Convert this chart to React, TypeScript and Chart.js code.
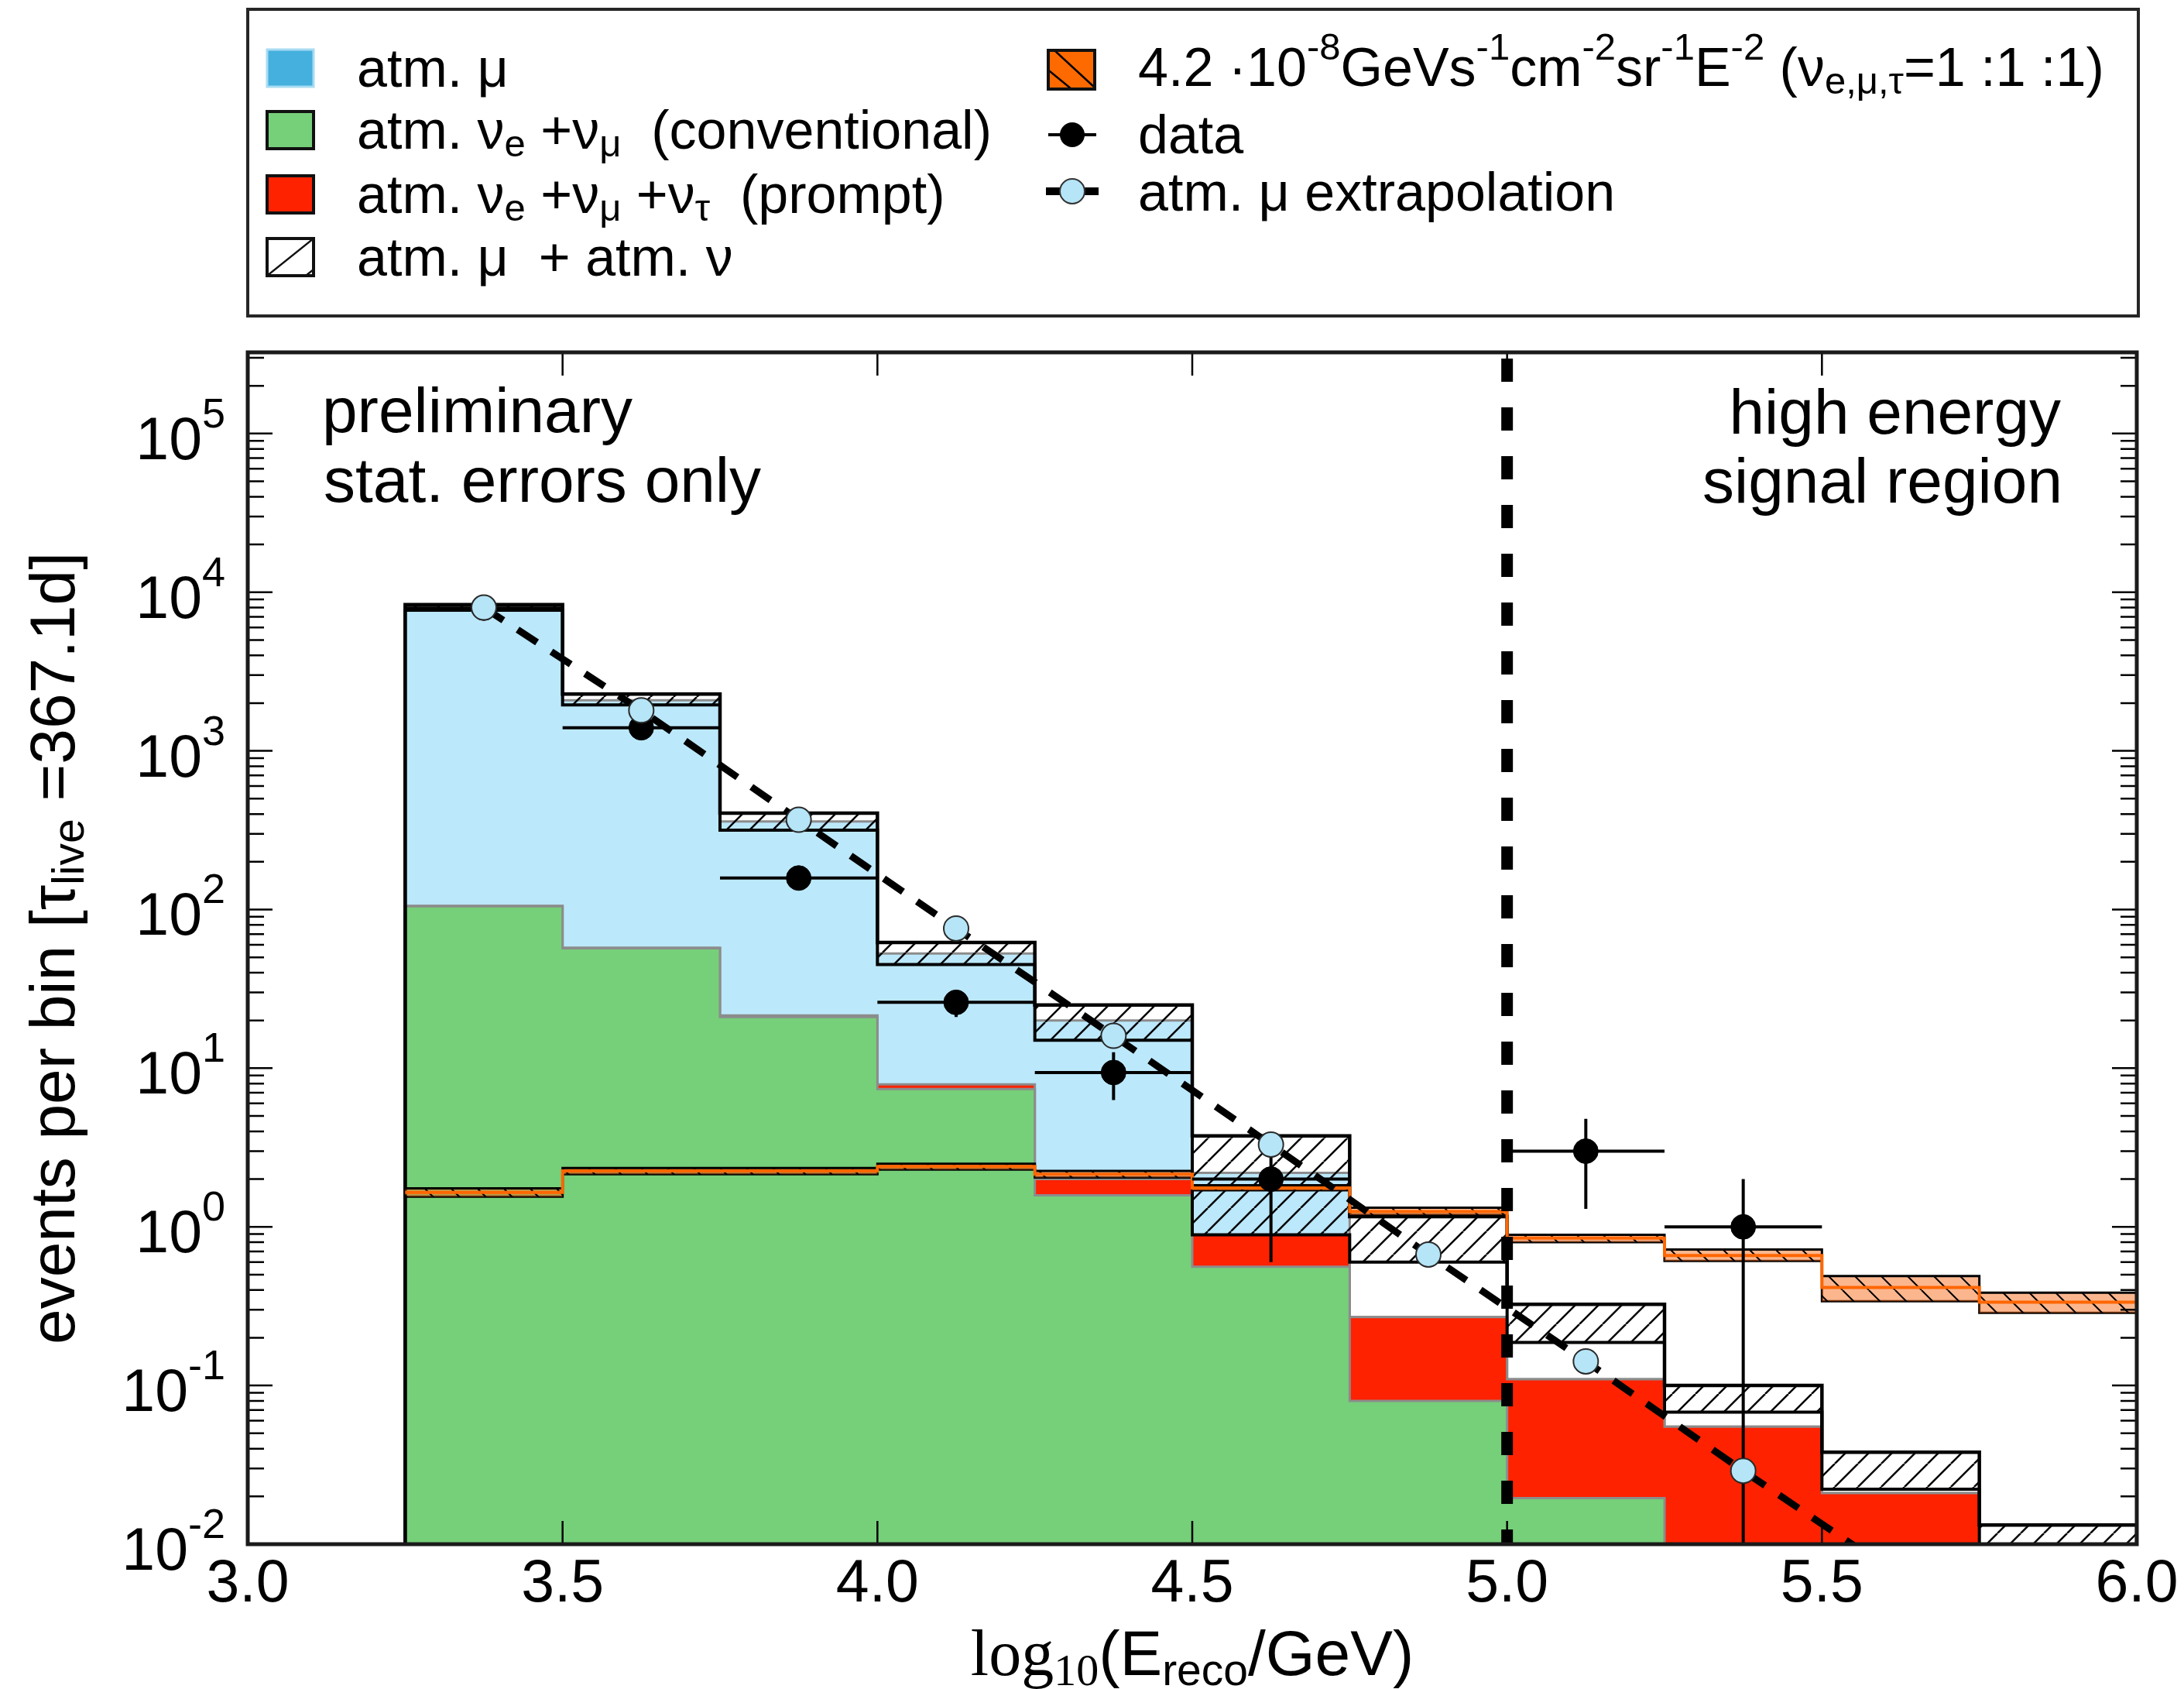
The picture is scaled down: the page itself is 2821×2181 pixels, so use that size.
import React, { useEffect, useRef } from 'react';
import { Chart, registerables } from 'chart.js';

Chart.register(...registerables);

// ---------------- data ----------------
const binEdges = [3.25, 3.5, 3.75, 4.0, 4.25, 4.5, 4.75, 5.0, 5.25, 5.5, 5.75, 6.0];
// stacked components per bin
const convNu = [105, 57, 21, 7.4, 1.58, 0.56, 0.08, 0.0195, 0, 0, 0];
const promptNu = [0.5, 0.5, 0.5, 0.5, 0.42, 0.33, 0.19, 0.09, 0.055, 0.021, 0.006];
const atmMu = [7900, 2030, 338, 45, 18, 1.3, 0, 0, 0, 0, 0];
// atm. mu + atm. nu uncertainty band
const bgUpper = [8350, 2280, 405, 62, 25, 3.75, 1.16, 0.325, 0.1, 0.038, 0.0132];
const bgLower = [7700, 1950, 316, 45, 15, 0.89, 0.6, 0.187, 0.068, 0.0222, 0.005];
// E^-2 signal band
const sigCentral = [1.65, 2.25, 2.25, 2.4, 2.15, 1.76, 1.25, 0.85, 0.66, 0.415, 0.335];
const sigLower = [1.55, 2.15, 2.15, 2.3, 2.05, 1.7, 1.19, 0.8, 0.61, 0.34, 0.287];
const sigUpper = [1.75, 2.35, 2.35, 2.5, 2.25, 1.83, 1.32, 0.89, 0.72, 0.49, 0.385];
// data with stat. errors
const dataX = [3.375, 3.625, 3.875, 4.125, 4.375, 4.625, 5.125, 5.375];
const dataY = [7950, 1400, 158, 26, 9.4, 2.0, 3.0, 1.0];
const dataLo = [7860, 1363, 146, 21, 6.3, 0.6, 1.3, 0];
const dataHi = [8040, 1437, 171, 31, 12.6, 3.4, 4.8, 2.0];
// atm. mu extrapolation
const extrapX = [3.375, 3.625, 3.875, 4.125, 4.375, 4.625, 4.875, 5.125, 5.375, 5.625];
const extrapY = [8000, 1800, 368, 76, 16, 3.3, 0.67, 0.142, 0.029, 0.0062];
// signal region cut
const cutX = 5.0;
// axes
const xTickValues = [3.0, 3.5, 4.0, 4.5, 5.0, 5.5, 6.0];
const xTickLabels = ['3.0', '3.5', '4.0', '4.5', '5.0', '5.5', '6.0'];
const yDecades = [-2, -1, 0, 1, 2, 3, 4, 5];
const yExpLabels = ['-2', '-1', '0', '1', '2', '3', '4', '5'];
const X_MIN = 3.0;
const X_MAX = 6.0;
const Y_MIN = 0.01;
const Y_MAX = 3.25e5;

// ---------------- layout / style ----------------
const W = 2821;
const H = 2181;
const AREA = { left: 320, top: 455, right: 2760, bottom: 1994 };
const SANS = '"Liberation Sans", Arial, sans-serif';
const SERIF = '"Liberation Serif", "Times New Roman", serif';
const FLOOR = 1e-5; // "empty" bin drawn below the axis
const HALF_BIN = (binEdges[1] - binEdges[0]) / 2;

function stepPoints(vals: number[], closeEnds = false) {
  const pts: { x: number; y: number }[] = [];
  const v = (a: number) => (a > 0 ? a : FLOOR);
  if (closeEnds) pts.push({ x: binEdges[0], y: FLOOR });
  vals.forEach((a, i) => pts.push({ x: binEdges[i], y: v(a) }));
  pts.push({ x: binEdges[binEdges.length - 1], y: v(vals[vals.length - 1]) });
  if (closeEnds) pts.push({ x: binEdges[binEdges.length - 1], y: FLOOR });
  return pts;
}

function makeHatch(ctx: CanvasRenderingContext2D, dir: '/' | '\\', s: number, color: string, lw: number, bg: string | null) {
  const c = document.createElement('canvas');
  c.width = s;
  c.height = s;
  const g = c.getContext('2d')!;
  if (bg) {
    g.fillStyle = bg;
    g.fillRect(0, 0, s, s);
  }
  g.strokeStyle = color;
  g.lineWidth = lw;
  g.beginPath();
  for (const o of [-s, 0, s]) {
    if (dir === '/') {
      g.moveTo(o, s);
      g.lineTo(o + s, 0);
    } else {
      g.moveTo(o, 0);
      g.lineTo(o + s, s);
    }
  }
  g.stroke();
  return ctx.createPattern(c, 'repeat') as CanvasPattern;
}

type Seg = { t: string; size: number; dy?: number; family?: string };
const R = (t: string, size: number, dy = 0, family = SANS): Seg => ({ t, size, dy, family });

function drawRich(ctx: CanvasRenderingContext2D, segs: Seg[], x: number, y: number, align: 'left' | 'center' | 'right' = 'left') {
  let total = 0;
  const ws = segs.map((s) => {
    ctx.font = `${s.size}px ${s.family || SANS}`;
    const w = ctx.measureText(s.t).width;
    total += w;
    return w;
  });
  let cx = align === 'left' ? x : align === 'center' ? x - total / 2 : x - total;
  ctx.textAlign = 'left';
  ctx.textBaseline = 'alphabetic';
  segs.forEach((s, i) => {
    ctx.font = `${s.size}px ${s.family || SANS}`;
    ctx.fillText(s.t, cx, y + (s.dy || 0));
    cx += ws[i];
  });
  return total;
}

const decorPlugin = {
  id: 'decor',
  beforeDatasetDraw(chart: any, args: any) {
    const ds = chart.data.datasets[args.index];
    if (ds.label !== 'data') return;
    const { ctx, chartArea: a, scales } = chart;
    const xs = scales.x;
    const ys = scales.y;
    ctx.save();
    ctx.beginPath();
    ctx.rect(a.left, a.top, a.right - a.left, a.bottom - a.top);
    ctx.clip();
    ctx.strokeStyle = '#000';
    ctx.lineWidth = 4;
    dataX.forEach((xv, i) => {
      const px = xs.getPixelForValue(xv);
      const py = ys.getPixelForValue(dataY[i]);
      const x0 = xs.getPixelForValue(xv - HALF_BIN);
      const x1 = xs.getPixelForValue(xv + HALF_BIN);
      const yl = dataLo[i] > 0 ? ys.getPixelForValue(dataLo[i]) : a.bottom + 5;
      const yh = ys.getPixelForValue(dataHi[i]);
      ctx.beginPath();
      ctx.moveTo(x0, py);
      ctx.lineTo(x1, py);
      ctx.moveTo(px, yl);
      ctx.lineTo(px, yh);
      ctx.stroke();
    });
    ctx.restore();
  },
  afterDraw(chart: any) {
    const { ctx, chartArea: a, scales } = chart;
    const xs = scales.x;
    const ys = scales.y;
    ctx.save();
    ctx.fillStyle = '#000';
    ctx.strokeStyle = '#000';

    // ---- ticks (inward, all four sides) ----
    ctx.lineWidth = 2.5;
    ctx.beginPath();
    xTickValues.forEach((v) => {
      const px = xs.getPixelForValue(v);
      ctx.moveTo(px, a.bottom);
      ctx.lineTo(px, a.bottom - 30);
      ctx.moveTo(px, a.top);
      ctx.lineTo(px, a.top + 30);
    });
    yDecades.forEach((k) => {
      for (let m = 1; m <= 9; m++) {
        const v = m * Math.pow(10, k);
        if (v < Y_MIN || v > Y_MAX) continue;
        const py = ys.getPixelForValue(v);
        const len = m === 1 ? 32 : 21;
        ctx.moveTo(a.left, py);
        ctx.lineTo(a.left + len, py);
        ctx.moveTo(a.right, py);
        ctx.lineTo(a.right - len, py);
      }
    });
    ctx.stroke();

    // ---- frame ----
    ctx.lineWidth = 5;
    ctx.strokeStyle = '#1a1a1a';
    ctx.strokeRect(a.left, a.top, a.right - a.left, a.bottom - a.top);

    // ---- tick labels ----
    ctx.fillStyle = '#000';
    xTickValues.forEach((v, i) => {
      drawRich(ctx, [R(xTickLabels[i], 77)], xs.getPixelForValue(v), 2068, 'center');
    });
    yDecades.forEach((k, i) => {
      const py = ys.getPixelForValue(Math.pow(10, k));
      drawRich(ctx, [R('10', 77), R(yExpLabels[i], 54, -41)], 291, py + 33, 'right');
    });

    // ---- axis titles ----
    drawRich(
      ctx,
      [R('log', 84, 0, SERIF), R('10', 58, 13, SERIF), R('(E', 82), R('reco', 57, 13), R('/GeV)', 82)],
      (a.left + a.right) / 2,
      2163,
      'center'
    );
    ctx.save();
    ctx.translate(96, (a.top + a.bottom) / 2);
    ctx.rotate(-Math.PI / 2);
    drawRich(ctx, [R('events per bin [τ', 82), R('live', 57, 12), R(' =367.1d]', 82)], 0, 0, 'center');
    ctx.restore();

    // ---- annotations ----
    drawRich(ctx, [R('preliminary', 82)], 416, 558, 'left');
    drawRich(ctx, [R('stat. errors only', 82)], 418, 648, 'left');
    drawRich(ctx, [R('high energy', 82)], 2662, 560, 'right');
    drawRich(ctx, [R('signal region', 82)], 2664, 649, 'right');

    // ---- legend box ----
    ctx.lineWidth = 4;
    ctx.strokeStyle = '#262626';
    ctx.strokeRect(320, 12, 2442, 396);

    const L = 70;
    const SUB = 49;
    const sd = 10;
    const sp = -34;
    const lx = 461;
    const rows = [112, 192, 275, 356];
    const sw = { x: 345, w: 60, h: 48 };

    // swatches left column
    ctx.fillStyle = '#45b0de';
    ctx.fillRect(sw.x, rows[0] - sw.h, sw.w, sw.h);
    ctx.lineWidth = 3;
    ctx.strokeStyle = '#a8dcf2';
    ctx.strokeRect(sw.x, rows[0] - sw.h, sw.w, sw.h);
    ctx.fillStyle = '#76cf79';
    ctx.fillRect(sw.x, rows[1] - sw.h, sw.w, sw.h);
    ctx.lineWidth = 4;
    ctx.strokeStyle = '#111';
    ctx.strokeRect(sw.x, rows[1] - sw.h, sw.w, sw.h);
    ctx.fillStyle = '#ff2200';
    ctx.fillRect(sw.x, rows[2] - sw.h, sw.w, sw.h);
    ctx.strokeRect(sw.x, rows[2] - sw.h, sw.w, sw.h);
    ctx.fillStyle = '#fff';
    ctx.fillRect(sw.x, rows[3] - sw.h, sw.w, sw.h);
    ctx.save();
    ctx.beginPath();
    ctx.rect(sw.x, rows[3] - sw.h, sw.w, sw.h);
    ctx.clip();
    ctx.lineWidth = 2.5;
    ctx.beginPath();
    ctx.moveTo(sw.x, rows[3]);
    ctx.lineTo(sw.x + sw.w, rows[3] - sw.h);
    ctx.moveTo(sw.x + sw.w - 10, rows[3]);
    ctx.lineTo(sw.x + sw.w, rows[3] - 8);
    ctx.stroke();
    ctx.restore();
    ctx.lineWidth = 4;
    ctx.strokeRect(sw.x, rows[3] - sw.h, sw.w, sw.h);

    ctx.fillStyle = '#000';
    drawRich(ctx, [R('atm. μ', L)], lx, rows[0]);
    drawRich(ctx, [R('atm. ν', L), R('e', SUB, sd), R(' +ν', L), R('μ', SUB, sd), R('  (conventional)', L)], lx, rows[1]);
    drawRich(
      ctx,
      [R('atm. ν', L), R('e', SUB, sd), R(' +ν', L), R('μ', SUB, sd), R(' +ν', L), R('τ', SUB, sd), R('  (prompt)', L)],
      lx,
      rows[2]
    );
    drawRich(ctx, [R('atm. μ  + atm. ν', L)], lx, rows[3]);

    // right column
    const rx = 1470;
    const rr = [111, 198, 272];
    const ox = 1354;
    const ow = 60;
    ctx.fillStyle = '#ff6a00';
    ctx.fillRect(ox, rr[0] - 46, ow, 50);
    ctx.save();
    ctx.beginPath();
    ctx.rect(ox, rr[0] - 46, ow, 50);
    ctx.clip();
    ctx.strokeStyle = '#000';
    ctx.lineWidth = 2.5;
    ctx.beginPath();
    ctx.moveTo(ox + 8, rr[0] - 46);
    ctx.lineTo(ox + ow, rr[0] + 2);
    ctx.moveTo(ox - 4, rr[0] - 24);
    ctx.lineTo(ox + 30, rr[0] + 4);
    ctx.stroke();
    ctx.restore();
    ctx.lineWidth = 4;
    ctx.strokeStyle = '#111';
    ctx.strokeRect(ox, rr[0] - 46, ow, 50);
    // data
    ctx.strokeStyle = '#000';
    ctx.lineWidth = 4;
    ctx.beginPath();
    ctx.moveTo(ox, 174);
    ctx.lineTo(ox + ow + 2, 174);
    ctx.stroke();
    ctx.fillStyle = '#000';
    ctx.beginPath();
    ctx.arc(ox + 31, 174, 16, 0, Math.PI * 2);
    ctx.fill();
    // extrapolation
    ctx.lineWidth = 10;
    ctx.beginPath();
    ctx.moveTo(ox - 3, 247);
    ctx.lineTo(ox + ow + 5, 247);
    ctx.stroke();
    ctx.fillStyle = '#b5e5f7';
    ctx.strokeStyle = '#333';
    ctx.lineWidth = 2;
    ctx.beginPath();
    ctx.arc(ox + 31, 247, 16, 0, Math.PI * 2);
    ctx.fill();
    ctx.stroke();

    ctx.fillStyle = '#000';
    drawRich(
      ctx,
      [
        R('4.2 ·10', L),
        R('-8', SUB, sp),
        R('GeVs', L),
        R('-1', SUB, sp),
        R('cm', L),
        R('-2', SUB, sp),
        R('sr', L),
        R('-1', SUB, sp),
        R('E', L),
        R('-2', SUB, sp),
        R(' (ν', L),
        R('e,μ,τ', SUB, sd),
        R('=1 :1 :1)', L),
      ],
      rx,
      rr[0]
    );
    drawRich(ctx, [R('data', L)], rx, rr[1]);
    drawRich(ctx, [R('atm. μ extrapolation', L)], rx, rr[2]);

    ctx.restore();
  },
};

export default function App() {
  const ref = useRef<HTMLCanvasElement>(null);

  useEffect(() => {
    const canvas = ref.current!;
    const ctx = canvas.getContext('2d')!;
    const bgHatch = makeHatch(ctx, '/', 30, '#000', 2.5, null);
    const sigHatch = makeHatch(ctx, '\\', 34, '#000', 2, 'rgba(250,110,30,0.5)');

    const greenTop = convNu.map((c) => c);
    const redTop = convNu.map((c, i) => c + promptNu[i]);
    const blueTop = redTop.map((r, i) => r + atmMu[i]);

    const step = { stepped: true as const, pointRadius: 0, pointHitRadius: 0 };

    const datasets: any[] = [
      {
        label: 'cut',
        data: [
          { x: cutX, y: Y_MAX },
          { x: cutX, y: Y_MIN },
        ],
        borderColor: '#000',
        borderWidth: 15,
        borderDash: [30, 33],
        borderDashOffset: 55,
        borderCapStyle: 'butt',
        pointRadius: 0,
        fill: false,
        order: 0,
      },
      {
        label: 'atm. μ extrapolation',
        data: extrapX.map((x, i) => ({ x, y: extrapY[i] })),
        borderColor: '#000',
        borderWidth: 9,
        borderDash: [30, 22],
        borderCapStyle: 'butt',
        pointRadius: (c: any) => (c.raw && c.raw.y >= Y_MIN ? 16 : 0),
        pointBackgroundColor: '#b5e5f7',
        pointBorderColor: '#2a2a2a',
        pointBorderWidth: 2,
        fill: false,
        order: 1,
      },
      {
        label: 'data',
        data: dataX.map((x, i) => ({ x, y: dataY[i] })),
        showLine: false,
        borderColor: '#000',
        pointRadius: 16,
        pointBackgroundColor: '#000',
        pointBorderColor: '#000',
        pointBorderWidth: 1,
        fill: false,
        order: 2,
      },
      {
        label: 'signal',
        data: stepPoints(sigCentral),
        ...step,
        borderColor: '#ff6600',
        borderWidth: 4,
        fill: false,
        order: 3,
      },
      {
        label: 'signal upper',
        data: stepPoints(sigUpper),
        ...step,
        borderColor: '#000',
        borderWidth: 3,
        backgroundColor: sigHatch,
        fill: { target: 5 },
        order: 4,
      },
      {
        label: 'signal lower',
        data: stepPoints(sigLower),
        ...step,
        borderColor: '#000',
        borderWidth: 3,
        fill: false,
        order: 5,
      },
      {
        label: 'atm. μ + atm. ν upper',
        data: stepPoints(bgUpper, true),
        ...step,
        borderColor: '#000',
        borderWidth: 4.5,
        backgroundColor: bgHatch,
        fill: { target: 7 },
        order: 6,
      },
      {
        label: 'atm. μ + atm. ν lower',
        data: stepPoints(bgLower, true),
        ...step,
        borderColor: '#000',
        borderWidth: 4,
        fill: false,
        order: 7,
      },
      {
        label: 'conventional',
        data: stepPoints(greenTop),
        ...step,
        borderColor: '#8c8c8c',
        borderWidth: 3,
        backgroundColor: '#76cf79',
        fill: 'start',
        order: 8,
      },
      {
        label: 'prompt',
        data: stepPoints(redTop),
        ...step,
        borderColor: '#8c8c8c',
        borderWidth: 3,
        backgroundColor: '#ff2200',
        fill: 'start',
        order: 9,
      },
      {
        label: 'atm. μ',
        data: stepPoints(blueTop),
        ...step,
        borderColor: '#8c8c8c',
        borderWidth: 3,
        backgroundColor: '#bce8fb',
        fill: 'start',
        order: 10,
      },
    ];

    const chart = new Chart(canvas, {
      type: 'line',
      data: { datasets },
      options: {
        responsive: false,
        maintainAspectRatio: false,
        animation: false,
        devicePixelRatio: 1,
        events: [],
        layout: {
          padding: {
            left: AREA.left,
            top: AREA.top,
            right: W - AREA.right,
            bottom: H - AREA.bottom,
          },
        },
        scales: {
          x: { type: 'linear', min: X_MIN, max: X_MAX, display: false },
          y: { type: 'logarithmic', min: Y_MIN, max: Y_MAX, display: false },
        },
        plugins: {
          legend: { display: false },
          tooltip: { enabled: false },
        },
      } as any,
      plugins: [decorPlugin as any],
    });

    return () => chart.destroy();
  }, []);

  return (
    <div style={{ position: 'fixed', left: 0, top: 0, width: W, height: H, background: '#fff' }}>
      <canvas ref={ref} width={W} height={H} style={{ display: 'block', width: W, height: H }} />
    </div>
  );
}
